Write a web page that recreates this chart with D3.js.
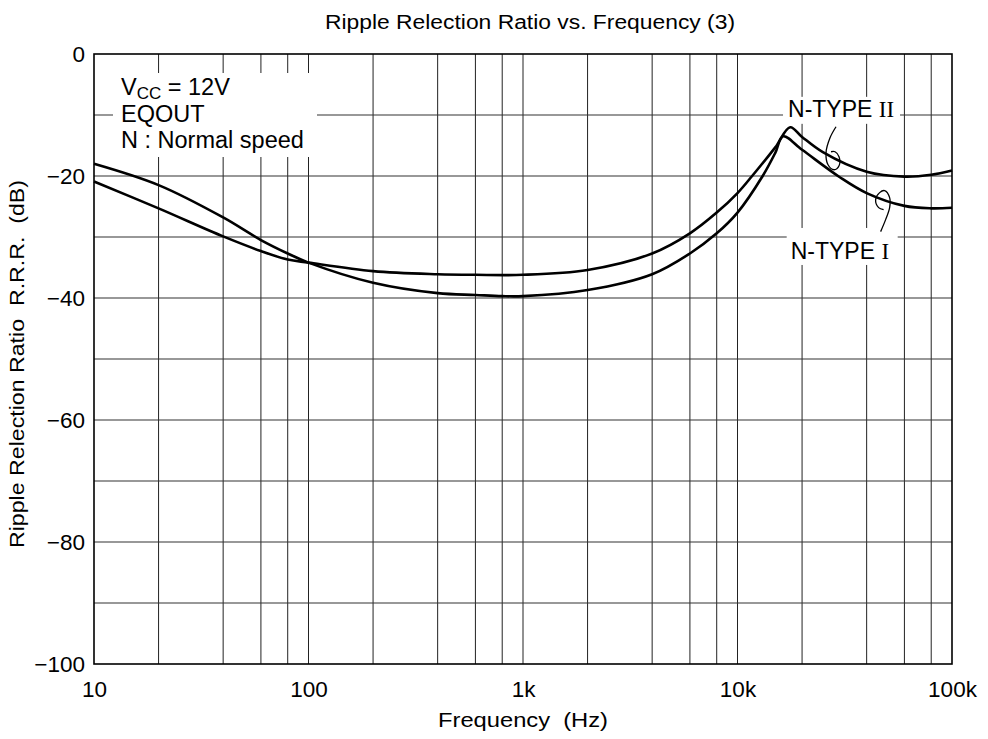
<!DOCTYPE html>
<html>
<head>
<meta charset="utf-8">
<script src="https://cdn.jsdelivr.net/npm/d3@7"></script>
<style>
  html, body { margin: 0; padding: 0; background: #fff; }
  svg { display: block; }
  text { font-family: "Liberation Sans", Arial, Helvetica, sans-serif; fill: #000; white-space: pre; }
</style>
</head>
<body>
<svg id="chart" width="988" height="739"></svg>
<script>
// ---------------- data ----------------
const titleText = "Ripple Relection Ratio vs. Frequency (3)";
const xLabel = "Frequency  (Hz)";
const yLabel = "Ripple Relection Ratio  R.R.R.  (dB)";

const xTickValues = [10, 100, 1000, 10000, 100000];
const xTickLabels = ["10", "100", "1k", "10k", "100k"];
const yTickValues = [0, -20, -40, -60, -80, -100];
const yTickLabels = ["0", "\u221220", "\u221240", "\u221260", "\u221280", "\u2212100"];

// N-TYPE I
const freqI = [10, 20, 40, 60, 80, 100, 200, 400, 600, 800, 1000, 2000, 4000, 6000, 8000, 10000, 13100, 15000, 16300, 20000, 30000, 40000, 60000, 80000, 100000];
const rrrI  = [-18.0, -21.5, -26.8, -30.5, -32.7, -34.2, -37.5, -39.2, -39.5, -39.7, -39.7, -38.7, -36.1, -32.7, -29.4, -26.0, -20.0, -16.2, -13.5, -15.7, -20.2, -22.8, -24.9, -25.3, -25.2];

// N-TYPE II
const freqII = [10, 20, 40, 60, 80, 100, 200, 400, 600, 1000, 2000, 4000, 6000, 8000, 10000, 11700, 15000, 17600, 20000, 25000, 40000, 60000, 80000, 100000];
const rrrII  = [-20.9, -25.3, -29.9, -32.3, -33.7, -34.2, -35.6, -36.1, -36.2, -36.2, -35.4, -32.7, -29.4, -26.0, -22.8, -20.0, -15.3, -12.0, -13.6, -16.1, -19.3, -20.1, -19.8, -19.1];

const gridFreqs = [20, 40, 60, 80, 100, 200, 400, 600, 800, 1000, 2000, 4000, 6000, 8000, 10000, 20000, 40000, 60000, 80000];
const gridDb = [-10, -20, -30, -40, -50, -60, -70, -80, -90];

const noteLines = ["V|CC| = 12V", "EQOUT", "N : Normal speed"];

// ---------------- chart ----------------
const svg = d3.select("#chart");
const x = d3.scaleLog().domain([10, 100000]).range([94, 952]);
const y = d3.scaleLinear().domain([-100, 0]).range([664, 54]);

// grid
const grid = svg.append("g");
grid.selectAll("line.v").data(gridFreqs).join("line")
  .attr("x1", d => x(d)).attr("x2", d => x(d))
  .attr("y1", y(0)).attr("y2", y(-100))
  .attr("stroke", "#222").attr("stroke-width", 1);
grid.selectAll("line.h").data(gridDb).join("line")
  .attr("x1", x(10)).attr("x2", x(100000))
  .attr("y1", d => y(d)).attr("y2", d => y(d))
  .attr("stroke", "#333").attr("stroke-width", 1.2);

// white boxes that interrupt the grid
function whiteBox(x0, y0, x1, y1) {
  svg.append("rect").attr("x", x0).attr("y", y0)
    .attr("width", x1 - x0).attr("height", y1 - y0).attr("fill", "#fff");
}
whiteBox(113, 73, 317, 157);

// curves
const line = d3.line().x(d => x(d[0])).y(d => y(d[1])).curve(d3.curveCatmullRom.alpha(0.5));
const seriesI = freqI.map((f, i) => [f, rrrI[i]]);
const seriesII = freqII.map((f, i) => [f, rrrII[i]]);
[seriesI, seriesII].forEach(s => {
  svg.append("path").datum(s).attr("d", line)
    .attr("fill", "none").attr("stroke", "#000").attr("stroke-width", 2.6)
    .attr("stroke-linejoin", "round");
});

// label boxes for N-TYPE labels
const lblII = { f: 17200, db: -10.3 };
const lblI = { f: 17700, db: -33.6 };
whiteBox(x(lblII.f) - 5, y(lblII.db) - 20, x(lblII.f) + 112, y(lblII.db) + 7);
whiteBox(x(lblI.f) - 4, y(lblI.db) - 31, x(lblI.f) + 107, y(lblI.db) + 6);

// frame
svg.append("rect").attr("x", x(10)).attr("y", y(0))
  .attr("width", x(100000) - x(10)).attr("height", y(-100) - y(0))
  .attr("fill", "none").attr("stroke", "#000").attr("stroke-width", 1.6);

// axes
const xAxis = svg.append("g").attr("transform", `translate(0,${y(-100)})`)
  .call(d3.axisBottom(x).tickValues(xTickValues).tickSize(0).tickPadding(18)
    .tickFormat((d, i) => xTickLabels[i]));
xAxis.select(".domain").remove();
xAxis.selectAll("text").attr("font-size", 22.5)
  .attr("font-family", "Liberation Sans, Arial, sans-serif").attr("fill", "#000")
  .attr("dy", "0.71em").attr("y", 17);

const yAxis = svg.append("g").attr("transform", `translate(${x(10)},0)`)
  .call(d3.axisLeft(y).tickValues(yTickValues).tickSize(0).tickPadding(9)
    .tickFormat((d, i) => yTickLabels[i]));
yAxis.select(".domain").remove();
yAxis.selectAll("text").attr("font-size", 22.5)
  .attr("font-family", "Liberation Sans, Arial, sans-serif").attr("fill", "#000");

// titles
svg.append("text").attr("x", 530).attr("y", 29).attr("text-anchor", "middle")
  .attr("font-size", 20).attr("textLength", 410).attr("lengthAdjust", "spacingAndGlyphs")
  .text(titleText);
svg.append("text").attr("x", 523).attr("y", 727).attr("text-anchor", "middle")
  .attr("font-size", 20).attr("textLength", 170).attr("lengthAdjust", "spacingAndGlyphs")
  .text(xLabel);
svg.append("text").attr("transform", "translate(24,364) rotate(-90)").attr("text-anchor", "middle")
  .attr("font-size", 20).attr("textLength", 368).attr("lengthAdjust", "spacingAndGlyphs")
  .text(yLabel);

// note
const note = svg.append("g");
noteLines.forEach((ln, i) => {
  const t = note.append("text").attr("x", 121).attr("y", 95 + i * 26.7).attr("font-size", 23.5);
  if (ln.includes("|")) {
    const parts = ln.split("|");
    t.append("tspan").text(parts[0]);
    t.append("tspan").attr("dy", 4).attr("font-size", 17).text(parts[1]);
    t.append("tspan").attr("dy", -4).text(parts[2]);
  } else {
    t.text(ln);
  }
});

// N-TYPE labels
function typeLabel(pos, roman) {
  const t = svg.append("text").attr("x", x(pos.f)).attr("y", y(pos.db)).attr("font-size", 23);
  t.append("tspan").text("N-TYPE ");
  t.append("tspan").attr("font-family", "Liberation Serif, 'Times New Roman', serif").text(roman);
}
typeLabel(lblII, "II");
typeLabel(lblI, "I");

// leader squiggles (offsets relative to anchor on the curve)
const sqII = { f: 27000, db: -17.5, pts: [[6,-34],[0,-23],[-4,-8],[-2,4],[4,9],[9,5],[9,-4],[5,-9],[1,-9]] };
const sqI = { f: 48000, db: -24.2, pts: [[-3,30],[2,18],[6,6],[6,-4],[1,-11],[-4,-9],[-8,-2],[-5,6],[0,8]] };
const sqLine = d3.line().curve(d3.curveCatmullRom.alpha(0.5));
[sqII, sqI].forEach(s => {
  const ax = x(s.f), ay = y(s.db);
  svg.append("path").attr("d", sqLine(s.pts.map(p => [ax + p[0], ay + p[1]])))
    .attr("fill", "none").attr("stroke", "#000").attr("stroke-width", 1.3);
});
</script>
</body>
</html>
